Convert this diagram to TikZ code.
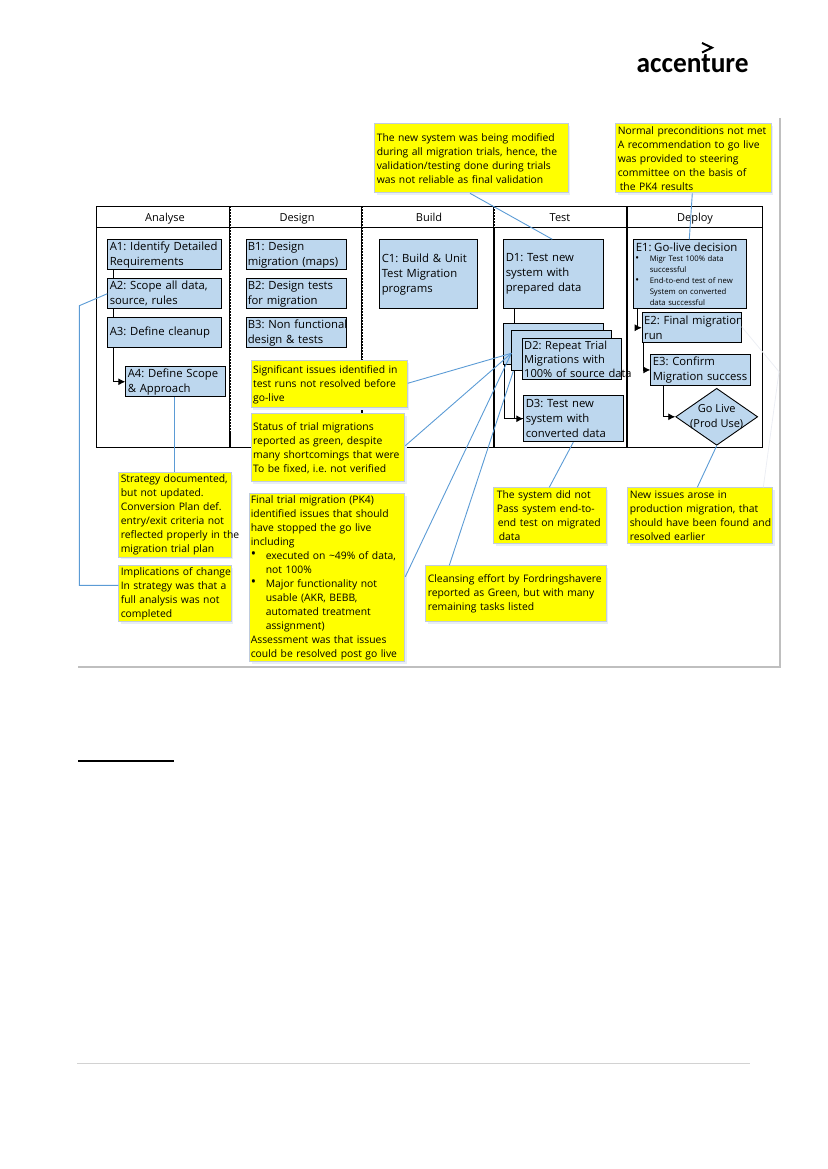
\documentclass[tikz,border=0pt]{standalone}
\usepackage{fontspec}
\setmainfont{Open Sans}
\newfontfamily\logofont{Carlito}
\usetikzlibrary{arrows.meta,shapes.geometric,shadows,backgrounds}
\definecolor{boxblue}{RGB}{189,215,238}
\definecolor{callblue}{RGB}{91,155,213}
\definecolor{callborder}{RGB}{192,204,221}
\definecolor{framegrey}{RGB}{191,191,191}
\definecolor{shadowc}{RGB}{232,238,246}
\definecolor{faintline}{RGB}{236,238,244}
\definecolor{noteyellow}{RGB}{255,255,0}
\definecolor{inkblack}{RGB}{0,0,0}
\newcommand{\nw}[1]{\mbox{#1}}
\newcommand{\bigdot}{\raisebox{0.1ex}{\fontsize{14}{14}\selectfont\textbullet}}
\newcommand{\bul}[1]{\mbox{\makebox[16pt][l]{\hspace{1pt}\bigdot}#1}}
\newcommand{\cnt}[1]{\mbox{\hspace{16pt}#1}}
\newcommand{\sbul}[1]{\mbox{\makebox[16pt][l]{\hspace{1.5pt}\raisebox{0.1ex}{\fontsize{10}{10}\selectfont\textbullet}}#1}}
\newcommand{\scnt}[1]{\mbox{\hspace{16pt}#1}}
\tikzset{
  x=1pt,y=-1pt,
  bx/.style={draw=inkblack,line width=0.9pt,fill=boxblue,anchor=north west,inner sep=0pt,
    align=left,font=\frenchspacing\fontsize{11.3}{15}\selectfont},
  callout/.style={draw=callborder,line width=1pt,fill=noteyellow,anchor=north west,inner sep=0pt,
    align=left,font=\frenchspacing\fontsize{10.35}{14}\selectfont,
    general shadow={fill=shadowc,shadow xshift=2pt,shadow yshift=-2pt}},
  hd/.style={anchor=base,inner sep=0pt,font=\fontsize{11}{13}\selectfont},
  flow/.style={draw=inkblack,line width=0.9pt},
  flowarr/.style={flow,-{Latex[length=7pt,width=7pt]}},
  cline/.style={draw=callblue,line width=0.9pt},
  grid/.style={draw=inkblack,line width=1pt},
  sep/.style={draw=inkblack,line width=1.7pt},
  sepdots/.style={draw=white,line width=0.6pt,dash pattern=on 1pt off 2pt},
}
\begin{document}
\begin{tikzpicture}
\useasboundingbox (0,0) rectangle (827,1169);

% page furniture
\draw[framegrey,line width=1.2pt] (780,118) -- (780,667) -- (78,667);
\draw[inkblack,line width=1.6pt] (78,761) -- (174,761);
\draw[framegrey!70,line width=1pt] (77,1063.5) -- (750,1063.5);

% logo
\node[anchor=base west,inner sep=0pt,xscale=0.96,text=inkblack,font=\logofont\bfseries\fontsize{28.5}{30}\selectfont] (logo) at (636.5,72.5) {accenture};
\draw[inkblack,line width=2pt] (702,43) -- (712,47.7) -- (702,52.5);

% swimlane grid
\draw[grid] (96.7,206.7) rectangle (762,447);
\draw[grid] (96.7,227) -- (763,227);
\draw[sep] (230,206.7) -- (230,447);
\draw[sep] (362,206.7) -- (362,447);
\draw[sep] (494,206.7) -- (494,447);
\draw[sep] (627,206.7) -- (627,447);
\draw[sepdots] (230.4,207.5) -- (230.4,432);
\draw[sepdots] (362.4,207.5) -- (362.4,362);
\draw[sepdots] (494.4,207.5) -- (494.4,228);

\node[hd] (hA) at (165,221) {Analyse};
\node[hd] (hB) at (297,221) {Design};
\node[hd] (hC) at (429,221) {Build};
\node[hd] (hD) at (560,221) {Test};
\node[hd] (hE) at (695,221) {Deploy};

% process boxes
\node[bx,minimum width=113.4,minimum height=30,text width=113.4] (A1) at (107.3,239.3) {\nw{\hspace{2pt}A1: Identify Detailed}\\\nw{\hspace{2pt}Requirements}};
\node[bx,minimum width=113.4,minimum height=30,text width=113.4] (A2) at (107.3,278.3) {\nw{\hspace{2pt}A2: Scope all data,}\\\nw{\hspace{2pt}source, rules}};
\node[bx,minimum width=113.4,minimum height=30,text width=113.4] (A3) at (107.3,317.3) {\nw{\hspace{2pt}A3: Define cleanup}};
\node[bx,minimum width=99.4,minimum height=30,text width=99.4] (A4) at (125.3,366.3) {\nw{\hspace{2pt}A4: Define Scope}\\\nw{\hspace{2pt}\& Approach}};
\node[bx,minimum width=99.4,minimum height=30,text width=99.4] (B1) at (246.3,239.3) {\nw{\hspace{1pt}B1: Design}\\\nw{\hspace{1pt}migration (maps)}};
\node[bx,minimum width=99.4,minimum height=30,text width=99.4] (B2) at (246.3,278.3) {\nw{\hspace{1pt}B2: Design tests}\\\nw{\hspace{1pt}for migration}};
\node[bx,minimum width=99.4,minimum height=30,text width=99.4] (B3) at (246.3,317.3) {\nw{\hspace{1pt}B3: Non functional}\\\nw{\hspace{1pt}design \& tests}};
\node[bx,minimum width=98,minimum height=69,text width=98] (C1) at (379.3,239.3) {\nw{\hspace{2pt}C1: Build \& Unit}\\\nw{\hspace{2pt}Test Migration}\\\nw{\hspace{2pt}programs}};
\node[bx,minimum width=99.4,minimum height=69,text width=99.4] (D1) at (503.3,239.3) {\nw{\hspace{2pt}D1: Test new}\\\nw{\hspace{2pt}system with}\\\nw{\hspace{2pt}prepared data}};
\node[bx,minimum width=99.4,minimum height=41] (D2c) at (503.3,323.3) {};
\node[bx,minimum width=99.4,minimum height=40] (D2b) at (511.3,330.3) {};
\node[bx,minimum width=99,minimum height=41,text width=99,font=\frenchspacing\fontsize{11.1}{14}\selectfont] (D2) at (521.7,338.3) {\nw{\hspace{2pt}D2: Repeat Trial}\\\nw{\hspace{2pt}Migrations with}\\\nw{\hspace{2pt}100\% of source data}};
\node[bx,minimum width=99.4,minimum height=46,text width=99.4] (D3) at (523.3,395.3) {\nw{\hspace{2pt}D3: Test new}\\\nw{\hspace{2pt}system with}\\\nw{\hspace{2pt}converted data}};
\node[bx,minimum width=112.4,minimum height=69,text width=112.4,font=\frenchspacing\fontsize{7.7}{11}\selectfont] (E1) at (633.3,239.3) {\nw{\fontsize{11.4}{13}\selectfont\hspace{2pt}E1: Go-live decision}\\[-1pt]\sbul{Migr Test 100\% data}\\\scnt{successful}\\\sbul{End-to-end test of new}\\\scnt{System on converted}\\\scnt{data successful}};
\node[bx,minimum width=99,minimum height=30,text width=99] (E2) at (641.7,312.3) {\nw{\hspace{2pt}E2: Final migration}\\\nw{\hspace{2pt}run}};
\node[bx,minimum width=99.4,minimum height=30.4,text width=99.4] (E3) at (650.3,354.3) {\nw{\hspace{2pt}E3: Confirm}\\\nw{\hspace{2pt}Migration success}};
\node[diamond,draw=inkblack,line width=0.9pt,fill=boxblue,inner sep=0pt,minimum width=82,minimum height=57,
  label={[align=center,inner sep=0pt,font=\fontsize{11}{15}\selectfont]center:Go Live\\(Prod Use)}] (GL) at (716.7,416.8) {};

% flow connectors, behind the boxes
\begin{pgfonlayer}{background}
\draw[flowarr] ([xshift=6]A1.south west) |- (A4.west);
\draw[flow] ([xshift=11]D1.south west) -- ([xshift=11]D2c.north west);
\draw[flowarr] ([xshift=11]D2c.south west) |- (D3.west);
\draw[flow] ([xshift=0.7]D2c.south west) |- (D3.west);
\draw[flowarr] ([xshift=4]E1.south west) |- (E2.west);
\draw[flowarr] ([xshift=1.6]E2.south west) |- (E3.west);
\draw[flowarr] ([xshift=13]E3.south west) |- (GL.west);
\end{pgfonlayer}

% callouts
\node[callout,minimum width=193.4,minimum height=69,text width=193.4] (c1) at (374.3,123.3) {\nw{\hspace{2pt}The new system was being modified}\\\nw{\hspace{2pt}during all migration trials, hence, the}\\\nw{\hspace{2pt}validation/testing done during trials}\\\nw{\hspace{2pt}was not reliable as final validation}};
\node[callout,minimum width=155.4,minimum height=69,text width=155.4] (c2) at (615.3,123.3) {\nw{\hspace{2pt}Normal preconditions not met}\\\nw{\hspace{2pt}A recommendation to go live}\\\nw{\hspace{2pt}was provided to steering}\\\nw{\hspace{2pt}committee on the basis of}\\\nw{\hspace{4pt}the PK4 results}};
\node[callout,minimum width=156,minimum height=47,text width=156] (c3) at (250.7,360.3) {\nw{\hspace{2pt}Significant issues identified in}\\\nw{\hspace{2pt}test runs not resolved before}\\\nw{\hspace{2pt}go-live}};
\node[callout,minimum width=153.6,minimum height=68,text width=153.6] (c4) at (250.7,413.3) {\nw{\hspace{2pt}Status of trial migrations}\\\nw{\hspace{2pt}reported as green, despite}\\\nw{\hspace{2pt}many shortcomings that were}\\\nw{\hspace{2pt}To be fixed, i.e. not verified}};
\node[callout,minimum width=155,minimum height=168,text width=155] (c5) at (249.3,493.3) {\nw{\hspace{1pt}Final trial migration (PK4)}\\\nw{\hspace{1pt}identified issues that should}\\\nw{\hspace{1pt}have stopped the go live}\\\nw{\hspace{1pt}including}\\\bul{executed on \textasciitilde 49\% of data,}\\\cnt{not 100\%}\\\bul{Major functionality not}\\\cnt{usable (AKR, BEBB,}\\\cnt{automated treatment}\\\cnt{assignment)}\\\nw{\hspace{1pt}Assessment was that issues}\\\nw{\hspace{1pt}could be resolved post go live}};
\node[callout,minimum width=180.4,minimum height=56,text width=180.4] (c6) at (425.3,565.3) {\nw{\hspace{2pt}Cleansing effort by Fordringshavere}\\\nw{\hspace{2pt}reported as Green, but with many}\\\nw{\hspace{2pt}remaining tasks listed}};
\node[callout,minimum width=112.4,minimum height=56,text width=112.4] (c7) at (493.3,487.3) {\nw{\hspace{3pt}The system did not}\\\nw{\hspace{3pt}Pass system end-to-}\\\nw{\hspace{4pt}end test on migrated}\\\nw{\hspace{5pt}data}};
\node[callout,minimum width=145,minimum height=56,text width=145] (c8) at (627.3,487.3) {\nw{\hspace{2pt}New issues arose in}\\\nw{\hspace{2pt}production migration, that}\\\nw{\hspace{2pt}should have been found and}\\\nw{\hspace{2pt}resolved earlier}};
\node[callout,minimum width=112.4,minimum height=84.4,text width=112.4] (c9) at (118.3,472.3) {\nw{\hspace{2pt}Strategy documented,}\\\nw{\hspace{2pt}but not updated.}\\\nw{\hspace{2pt}Conversion Plan def.}\\\nw{\hspace{2pt}entry/exit criteria not}\\\nw{\hspace{2pt}reflected properly in the}\\\nw{\hspace{2pt}migration trial plan}};
\node[callout,minimum width=112.4,minimum height=56,text width=112.4] (c10) at (118.3,565.3) {\nw{\hspace{2pt}Implications of change}\\\nw{\hspace{2pt}In strategy was that a}\\\nw{\hspace{2pt}full analysis was not}\\\nw{\hspace{2pt}completed}};

% callout connectors
\draw[cline] ([xshift=95.7]c1.south west) -- ([xshift=49]D1.north west);
\draw[cline] ([xshift=77]c2.south west) -- ([xshift=56]E1.north west);
\draw[cline] ([yshift=-23]c3.north east) -- ([yshift=-23]D2b.north west);
\draw[cline] ([yshift=-32.4]c4.north east) -- ([yshift=-23]D2b.north west);
\draw[cline] ([yshift=-83.4]c5.north east) -- ([yshift=-23]D2b.north west);
\draw[cline] ([xshift=24]c6.north west) -- ([xshift=2]D2b.south west);
\draw[cline] ([xshift=56]c7.north west) -- ([xshift=50]D3.south west);
\draw[cline] ([xshift=70]c8.north west) -- (GL.south);
\draw[cline] ([xshift=56]c9.north west) -- ([xshift=49]A4.south west);
\draw[cline] ([yshift=-20]c10.north west) -| (79.3,305.7) -- (A2.west);
\draw[faintline,line width=0.8pt] ([xshift=136]c8.north west) -- (779,371.7) -- ([yshift=-14.4]E2.north east);
\end{tikzpicture}
\end{document}
